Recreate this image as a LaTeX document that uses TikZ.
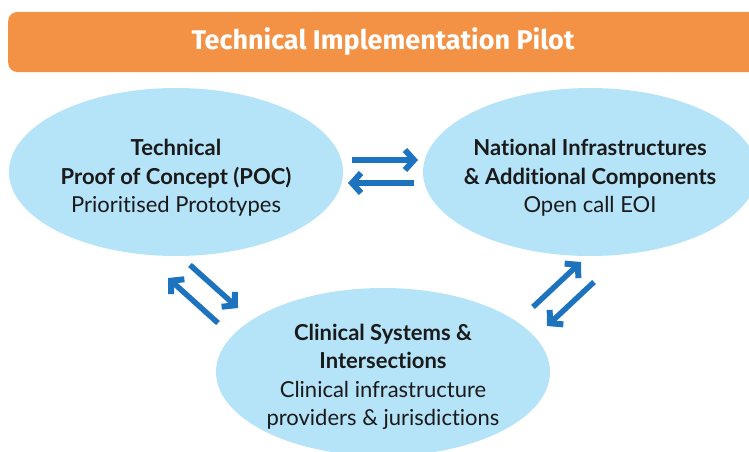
\documentclass[tikz,border=0pt]{standalone}
\usepackage{fontspec}
\setmainfont{Lato}[Ligatures=NoCommon]
\newfontfamily\headfont{Fira Sans}
\usetikzlibrary{arrows.meta,shapes.geometric}
\definecolor{headorange}{HTML}{F39145}
\definecolor{ellblue}{HTML}{B5E3F8}
\definecolor{arrblue}{HTML}{1E73BE}
\definecolor{txt}{HTML}{1A1A1A}
\tikzset{
  bubble/.style={ellipse, fill=ellblue, minimum width=334pt, minimum height=168pt, inner sep=0pt},
  bubbletext/.style={text=txt, align=center, font=\fontsize{22}{28.5}\selectfont},
  flow/.style={draw=arrblue, line width=5.5pt, -{Straight Barb[length=9pt,width=20pt,line width=6pt]}},
}
\begin{document}
\begin{tikzpicture}[x=1pt,y=-1pt]
\useasboundingbox (0,0) rectangle (749,452);
\clip (0,0) rectangle (749,452);
\node[fill=headorange, rounded corners=9pt, minimum width=770pt, minimum height=60pt, anchor=west, inner sep=0pt] (head) at (8,42) {};
\node[text=white, font=\headfont\fontsize{27}{30}\selectfont\bfseries] (headtxt) at (383,42) {Technical Implementation Pilot};
\node[bubble] (poc) at (176,172) {};
\node[bubble] (nat) at (590,172) {};
\node[bubble] (cli) at (383,372) {};
\node[bubbletext] (poct) at ([yshift=-6pt]poc.center) {\textbf{Technical}\\\textbf{Proof of Concept (POC)}\\Prioritised Prototypes};
\node[bubbletext] (natt) at ([yshift=-6pt]nat.center) {\textbf{National Infrastructures}\\\textbf{\& Additional Components}\\Open call EOI};
\node[bubbletext] (clit) at ([yshift=-5pt]cli.center) {\textbf{Clinical Systems \&}\\\textbf{Intersections}\\Clinical infrastructure\\providers \& jurisdictions};
\coordinate (a1s) at (352,160); \coordinate (a1e) at (418,160);
\coordinate (a2s) at (414,183); \coordinate (a2e) at (348,183);
\coordinate (b1s) at (190,265); \coordinate (b1e) at (238,308);
\coordinate (b2s) at (218,323); \coordinate (b2e) at (168,278);
\coordinate (c1s) at (533,307); \coordinate (c1e) at (581,262);
\coordinate (c2s) at (594,282); \coordinate (c2e) at (547,326);
\draw[flow] (a1s) -- (a1e);
\draw[flow] (a2s) -- (a2e);
\draw[flow] (b1s) -- (b1e);
\draw[flow] (b2s) -- (b2e);
\draw[flow] (c1s) -- (c1e);
\draw[flow] (c2s) -- (c2e);
\end{tikzpicture}
\end{document}
